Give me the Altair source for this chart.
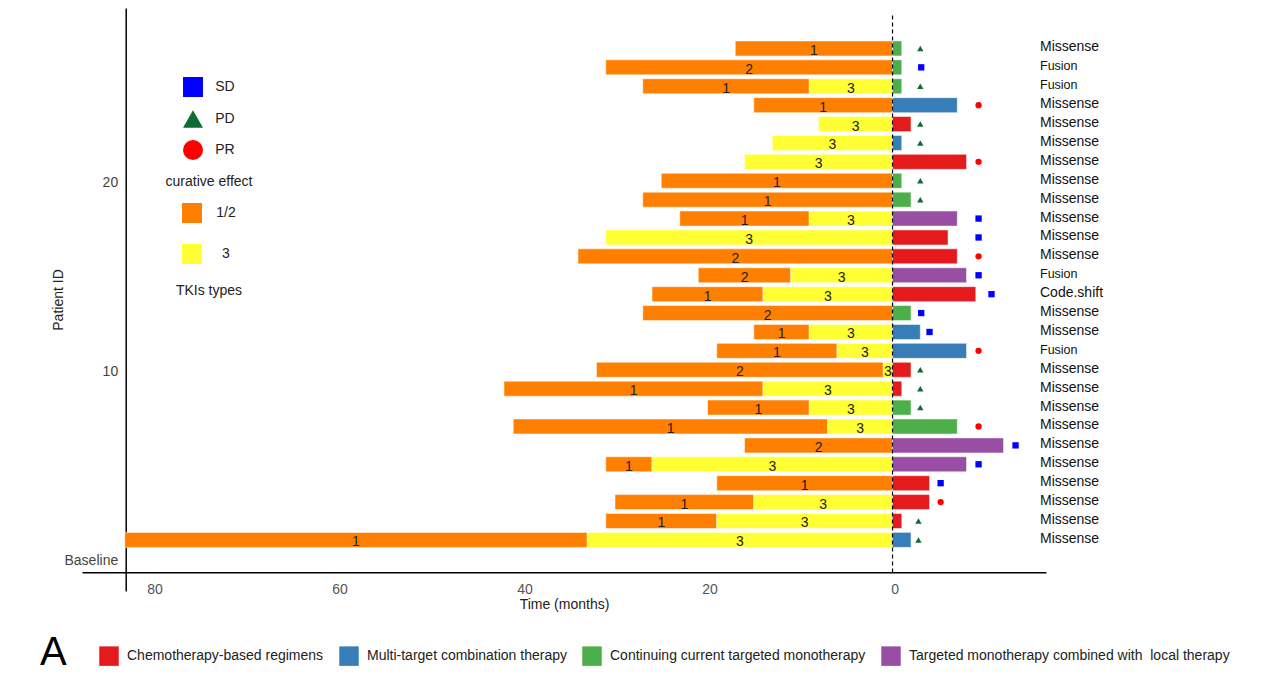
import altair as alt
import pandas as pd

# ---------------- data (patients listed top to bottom: 27 ... 1) ----------------
patient_id = list(range(27, 0, -1))
first_tki = [1, 2, 1, 1, 3, 3, 3, 1, 1, 1, 3, 2, 2, 1, 2, 1, 1, 2, 1, 1, 1, 2, 1, 1, 1, 1, 1]
first_start = [17, 31, 27, 15, 8, 13, 16, 25, 27, 23, 31, 34, 21, 26, 27, 15, 19, 32, 42, 20, 41, 16, 31, 19, 30, 31, 83]
switch_to_3 = [0, 0, 9, 0, 0, 0, 0, 0, 0, 9, 0, 0, 11, 14, 0, 9, 6, 1, 14, 9, 7, 0, 26, 0, 15, 19, 33]
therapy_code = ["C", "C", "C", "M", "R", "M", "R", "C", "C", "L", "R", "R", "L", "R", "C", "M", "M", "R", "R", "C",
                "C", "L", "L", "R", "R", "R", "M"]
therapy_months = [1, 1, 1, 7, 2, 1, 8, 1, 2, 7, 6, 7, 8, 9, 2, 3, 8, 2, 1, 2, 7, 12, 8, 4, 4, 1, 2]
response = ["PD", "SD", "PD", "PR", "PD", "PD", "PR", "PD", "PD", "SD", "SD", "PR", "SD", "SD", "SD", "SD", "PR", "PD",
            "PD", "PD", "PR", "SD", "SD", "SD", "PR", "PD", "PD"]
marker_month = [3, 3.1, 3, 9.3, 3, 3, 9.3, 3, 3, 9.3, 9.3, 9.3, 9.3, 10.7, 3.1, 4, 9.3, 3, 3, 3, 9.3, 13.3, 9.3, 5.2,
                5.2, 2.8, 2.8]
mutation = ["Missense", "Fusion", "Fusion", "Missense", "Missense", "Missense", "Missense", "Missense", "Missense",
            "Missense", "Missense", "Missense", "Fusion", "Code.shift", "Missense", "Missense", "Fusion", "Missense",
            "Missense", "Missense", "Missense", "Missense", "Missense", "Missense", "Missense", "Missense", "Missense"]

therapy_names = {
    "R": "Chemotherapy-based regimens",
    "M": "Multi-target combination therapy",
    "C": "Continuing current targeted monotherapy",
    "L": "Targeted monotherapy combined with\u00a0 local therapy",
}
therapy_order = [therapy_names[k] for k in ["R", "M", "C", "L"]]
therapy_colors = ["#E41A1C", "#377EB8", "#4DAF4A", "#984EA3"]
tki_groups = ["1/2", "3"]
tki_colors = ["#FF7F00", "#FFFF33"]
resp_order = ["SD", "PD", "PR"]
resp_colors = ["#0000FF", "#0E6B35", "#FF0000"]
resp_shapes = ["square", "triangle-up", "circle"]

# ---------------- tables ----------------
seg_rows = []
for pid, t1, s1, sw in zip(patient_id, first_tki, first_start, switch_to_3):
    if sw > 0:
        seg_rows.append(dict(patient=pid, start=-s1, end=-sw, tki=str(t1)))
        seg_rows.append(dict(patient=pid, start=-sw, end=0, tki="3"))
    else:
        seg_rows.append(dict(patient=pid, start=-s1, end=0, tki=str(t1)))
seg_df = pd.DataFrame(seg_rows)
seg_df["group"] = seg_df["tki"].map(lambda t: "3" if t == "3" else "1/2")

right_df = pd.DataFrame(dict(
    patient=patient_id,
    start=[0] * len(patient_id),
    end=therapy_months,
    therapy=[therapy_names[c] for c in therapy_code],
    response=response,
    marker=marker_month,
    mutation=mutation,
))

FONT = "Liberation Sans"
X_DOMAIN = [-87.62, 16.59]
Y_DOMAIN = [-1.704, 29.14]
AXIS_ROW = -0.72
DASH_TOP = 28.8

xs = alt.Scale(domain=X_DOMAIN, nice=False, zero=False, padding=0)
ys = alt.Scale(domain=Y_DOMAIN, nice=False, zero=False, padding=0)

x_axis = alt.Axis(values=[-80, -60, -40, -20, 0], labelExpr="abs(datum.value)", ticks=False, grid=False,
                  domainColor="black", domainWidth=1.5, labelFontSize=14, labelColor="#555555",
                  labelPadding=10, labelOffset=2, offset=-18.7, titleFontSize=14, titleFontWeight="normal",
                  titleColor="#222222", titlePadding=1)
y_axis = alt.Axis(values=[0, 10, 20], labelExpr="datum.value == 0 ? 'Baseline' : datum.label", ticks=False,
                  grid=False, domainColor="black", domainWidth=1.5, labelFontSize=14, labelColor="#444444",
                  labelPadding=8, labelOffset=2, offset=-43.7, titleFontSize=14, titleFontWeight="normal",
                  titleColor="#222222", titlePadding=-2)

left_bars = alt.Chart(seg_df).mark_bar(size=15, stroke="white", strokeWidth=0.5).encode(
    x=alt.X("start:Q", scale=xs, axis=x_axis, title="Time (months)"),
    x2="end:Q",
    y=alt.Y("patient:Q", scale=ys, axis=y_axis, title="Patient ID"),
    color=alt.Color("group:N", scale=alt.Scale(domain=tki_groups, range=tki_colors),
                    legend=alt.Legend(title="TKIs types", orient="none", legendX=94, legendY=195,
                                      direction="vertical", titleOrient="bottom", titleAnchor="middle",
                                      symbolType="square", symbolSize=400, symbolStrokeWidth=0,
                                      labelFontSize=14, labelAlign="center", labelOffset=24,
                                      labelColor="#222222", titleFontSize=14, titleFontWeight="normal",
                                      titleColor="#222222", rowPadding=21, titlePadding=20, padding=0)),
)

left_text = alt.Chart(seg_df).mark_text(fontSize=14, color="#222222", dy=2.5, font=FONT).transform_calculate(
    mid="(datum.start + datum.end) / 2"
).encode(
    x=alt.X("mid:Q", scale=xs),
    y=alt.Y("patient:Q", scale=ys),
    text="tki:N",
)

right_bars = alt.Chart(right_df).mark_bar(size=15, stroke="white", strokeWidth=0.5).encode(
    x=alt.X("start:Q", scale=xs),
    x2="end:Q",
    y=alt.Y("patient:Q", scale=ys),
    color=alt.Color("therapy:N", scale=alt.Scale(domain=therapy_order, range=therapy_colors),
                    legend=alt.Legend(title="A", orient="none", legendX=-42, legendY=638,
                                      direction="horizontal", titleOrient="left", titleAnchor="middle",
                                      titleBaseline="line-bottom", titleLineHeight=5,
                                      titleFontSize=40, titleFontWeight="normal", titleColor="black",
                                      titlePadding=32, symbolType="square", symbolSize=380,
                                      symbolStrokeWidth=0, labelFontSize=14, labelColor="#222222",
                                      labelOffset=8, columnPadding=15, labelLimit=400, padding=0)),
)

resp_legend = dict(title="curative effect", orient="none", legendX=84, legendY=69, direction="vertical",
                   titleOrient="bottom", titleAnchor="middle", symbolSize=400, symbolStrokeWidth=0,
                   labelFontSize=14, labelAlign="center", labelOffset=22, labelColor="#222222",
                   titleFontSize=14, titleFontWeight="normal", titleColor="#222222", rowPadding=12,
                   titlePadding=15, padding=0)

points = alt.Chart(right_df).mark_point(filled=True, opacity=1, size=40).encode(
    x=alt.X("marker:Q", scale=xs),
    y=alt.Y("patient:Q", scale=ys),
    color=alt.Color("response:N", scale=alt.Scale(domain=resp_order, range=resp_colors),
                    legend=alt.Legend(**resp_legend)),
    shape=alt.Shape("response:N", scale=alt.Scale(domain=resp_order, range=resp_shapes),
                    legend=alt.Legend(**resp_legend)),
)

mut_text = alt.Chart(right_df).mark_text(align="left", baseline="middle", dy=-1, color="#111111",
                                         font=FONT).encode(
    x=alt.value(958),
    y=alt.Y("patient:Q", scale=ys),
    text="mutation:N",
    size=alt.condition("datum.mutation == 'Fusion'", alt.value(12.5), alt.value(14)),
)

zero_line = alt.Chart(pd.DataFrame({"t": [0]})).mark_rule(color="black", strokeDash=[4, 3],
                                                           strokeWidth=1.2).encode(
    x=alt.X("t:Q", scale=xs),
    y=alt.datum(AXIS_ROW),
    y2=alt.datum(DASH_TOP),
)

chart = alt.layer(left_bars, left_text, right_bars, zero_line, points, mut_text).resolve_scale(
    color="independent", shape="independent"
).resolve_legend(color="independent", shape="independent").properties(
    width=964, height=583,
    autosize=alt.AutoSizeParams(type="none"),
    padding={"left": 74, "top": 0, "right": 205, "bottom": 88},
).configure(font=FONT).configure_view(stroke=None, strokeWidth=0).configure_axis(
    labelFont=FONT, titleFont=FONT).configure_legend(labelFont=FONT, titleFont=FONT)

chart.save("out.html", embed_options={"renderer": "svg", "actions": False})
